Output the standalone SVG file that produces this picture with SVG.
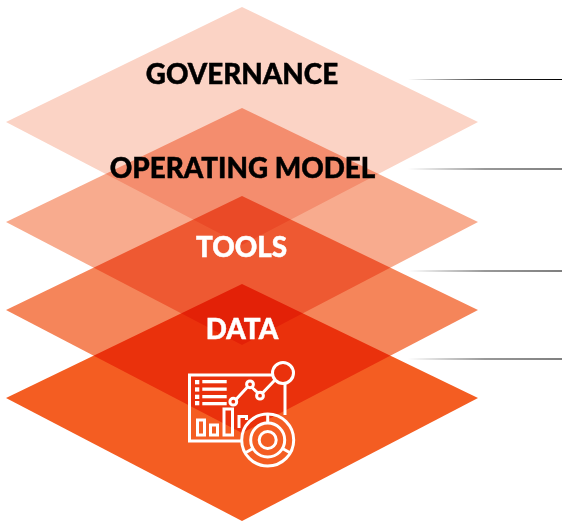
<svg xmlns="http://www.w3.org/2000/svg" width="563" height="522" viewBox="0 0 563 522">
<style>
.d{mix-blend-mode:multiply}
.t{font-family:"Lato","Liberation Sans",sans-serif;font-weight:900;font-size:27.8px;text-anchor:middle;stroke-width:0.45px}
.i{fill:none;stroke:#fff;stroke-width:3}
.f{fill:#fff}
.c{fill:none;stroke:url(#fade);stroke-width:1.2}
</style>
<defs>
<linearGradient id="fade" gradientUnits="userSpaceOnUse" x1="408" y1="0" x2="562" y2="0">
<stop offset="0" stop-color="#000" stop-opacity="0"/><stop offset="0.5" stop-color="#000" stop-opacity="0.8"/><stop offset="1" stop-color="#000"/>
</linearGradient>
</defs>
<rect width="563" height="522" fill="#fff"/>
<g id="connectors">
<path class="c" d="M408 79.500H562"/>
<path class="c" d="M408 169H562"/>
<path class="c" d="M408 271H562"/>
<path class="c" d="M408 359H562"/>
</g>
<g style="isolation:isolate">
<polygon id="layer-governance" class="d" fill="#FBD3C5" points="242,7 478,122 242,245 6,122"/>
<polygon id="layer-operating" class="d" fill="#F8AB8E" points="242,108 478,222 242,345 6,222"/>
<polygon id="layer-tools" class="d" fill="#F5855A" points="242,196 478,310 242,433 6,310"/>
<polygon id="layer-data" class="d" fill="#F45D22" points="242,284 478,398 242,521 6,398"/>
</g>
<g id="governance"><text class="t" x="242" y="84" fill="#000" stroke="#000">GOVERNANCE</text></g>
<g id="operating-model"><text class="t" x="242.500" y="178" fill="#000" stroke="#000">OPERATING MODEL</text></g>
<g id="tools"><text class="t" x="241.500" y="257" fill="#fff" stroke="#fff">TOOLS</text></g>
<g id="data"><text class="t" x="242" y="339" fill="#fff" stroke="#fff">DATA</text></g>
<g id="data-icon">
<path class="i" d="M273 375H189.500V441H241"/>
<path class="i" d="M285 383V415"/>
<circle class="i" cx="283" cy="373" r="10.500"/>
<path class="i" d="M235.500 400L247.500 387M252 387.500L258 393M262.500 393L275 380"/>
<circle class="i" cx="233.300" cy="401.700" r="3.400"/>
<circle class="i" cx="250" cy="384.300" r="3.400"/>
<circle class="i" cx="260" cy="395.700" r="3.400"/>
<g class="f">
<rect x="195" y="380" width="4.300" height="4.300"/><rect x="195" y="387.300" width="4.300" height="4.300"/><rect x="195" y="394.700" width="4.300" height="4.300"/><rect x="195" y="401" width="4.300" height="4.300"/>
<rect x="202.300" y="380" width="24.400" height="3.300"/><rect x="202.300" y="387.500" width="24.400" height="3.300"/><rect x="202.300" y="395" width="24.400" height="3.300"/><rect x="202.300" y="402" width="24.400" height="3.300"/>
</g>
<rect class="i" x="197.500" y="420" width="7" height="15"/>
<rect class="i" x="210.500" y="425" width="7" height="10"/>
<rect class="i" x="224" y="409" width="8.500" height="26"/>
<path class="i" d="M239 428V416.500H246.500V420"/>
<circle class="i" cx="267.700" cy="440" r="26"/>
<circle class="i" cx="267.700" cy="440" r="17"/>
<circle class="i" cx="267.700" cy="440" r="8.500"/>
<path class="i" d="M267.700 414V423M245 453L252.900 448.500M290.400 453L282.500 448.500"/>
</g>
</svg>
